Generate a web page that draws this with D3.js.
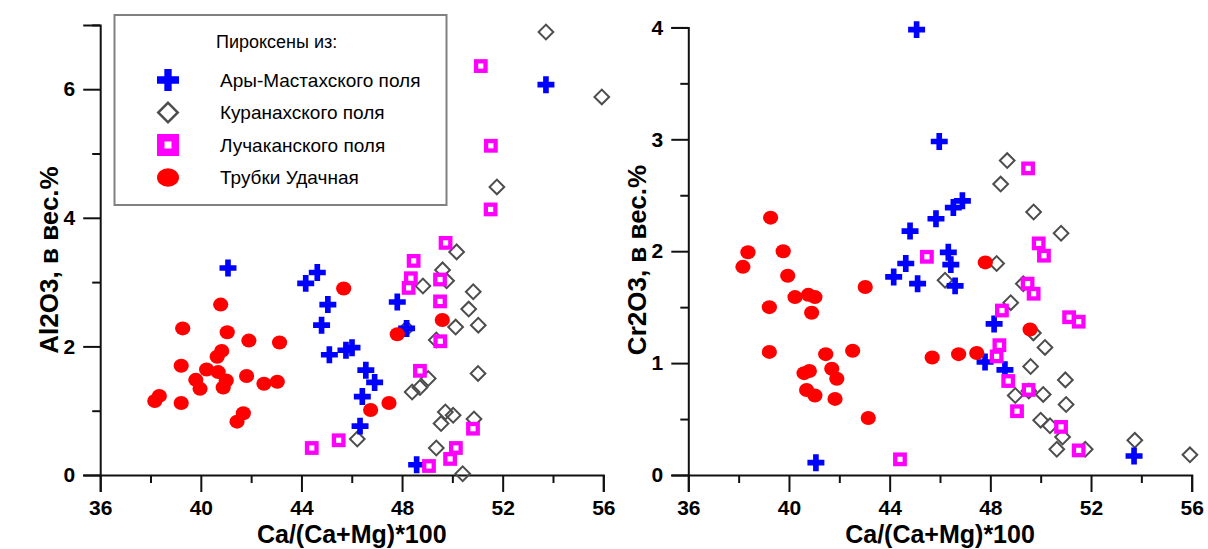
<!DOCTYPE html>
<html>
<head>
<meta charset="utf-8">
<script src="https://cdn.jsdelivr.net/npm/d3@7"></script>
<style>
  body { margin: 0; background: #fff; }
  text { font-family: "Liberation Sans", Arial, sans-serif; }
</style>
</head>
<body>
<div id="chart"></div>
<script>
// Values
// Ca/(Ca+Mg)*100 on x, Al2O3 (left panel) and Cr2O3 (right panel) on y

// Ары-Мастахского поля (blue crosses)
var aryAlX = [41.08, 44.63, 44.17, 45.05, 44.80, 45.11, 45.77, 46.01, 46.56, 46.91, 46.42, 46.33, 47.81, 48.18, 48.58, 53.72];
var aryAlY = [3.22, 3.15, 2.98, 2.65, 2.33, 1.87, 1.94, 1.98, 1.63, 1.44, 1.22, 0.76, 2.69, 2.28, 0.16, 6.07];
var aryCrX = [45.07, 45.97, 46.89, 46.53, 45.84, 44.81, 44.64, 44.16, 45.11, 46.33, 46.43, 46.60, 48.15, 47.79, 48.58, 41.07, 53.71];
var aryCrY = [3.98, 2.98, 2.45, 2.39, 2.29, 2.18, 1.89, 1.77, 1.71, 1.99, 1.88, 1.69, 1.35, 1.01, 0.94, 0.11, 0.17];

// Куранахского поля (grey diamonds)
var kurAlX = [50.17, 49.61, 49.77, 48.83, 50.83, 50.65, 50.13, 51.03, 49.36, 48.18, 51.02, 49.04, 48.71, 48.40, 49.72, 50.03, 49.55, 50.86, 49.36, 46.22, 50.41, 53.72, 55.94, 51.77];
var kurAlY = [3.47, 3.19, 3.02, 2.94, 2.85, 2.58, 2.30, 2.33, 2.10, 2.28, 1.58, 1.50, 1.36, 1.29, 0.98, 0.93, 0.80, 0.87, 0.42, 0.56, 0.02, 6.89, 5.88, 4.48];
var kurCrX = [48.67, 48.41, 49.72, 50.81, 48.25, 46.20, 49.31, 48.81, 49.71, 50.17, 49.60, 50.98, 48.99, 50.10, 51.01, 50.00, 50.37, 50.87, 50.64, 51.77, 53.74, 55.93, 49.53];
var kurCrY = [2.81, 2.60, 2.35, 2.16, 1.89, 1.74, 1.71, 1.54, 1.27, 1.14, 0.97, 0.85, 0.71, 0.72, 0.63, 0.49, 0.44, 0.34, 0.23, 0.23, 0.31, 0.18, 0.75];

// Лучаканского поля (magenta squares)
var luchAlX = [44.41, 45.48, 51.52, 49.73, 48.46, 48.35, 48.26, 49.51, 49.51, 49.52, 48.71, 50.82, 50.14, 49.91, 49.07, 51.13, 51.53];
var luchAlY = [0.42, 0.54, 4.13, 3.61, 3.33, 3.06, 2.91, 3.04, 2.70, 2.08, 1.62, 0.72, 0.42, 0.25, 0.14, 6.36, 5.12];
var luchCrX = [45.48, 44.41, 49.50, 49.92, 50.13, 49.48, 49.72, 48.46, 51.13, 51.51, 48.36, 48.25, 48.71, 49.52, 49.06, 50.81, 51.51];
var luchCrY = [1.95, 0.14, 2.74, 2.07, 1.96, 1.71, 1.62, 1.47, 1.41, 1.37, 1.16, 1.06, 0.84, 0.76, 0.57, 0.43, 0.22];

// Трубки Удачная (red dots)
var udAlX = [45.68, 40.79, 39.28, 41.05, 41.91, 43.13, 40.83, 40.65, 39.22, 40.23, 40.69, 41.01, 39.80, 41.82, 39.97, 40.89, 42.51, 43.04, 38.35, 38.17, 39.22, 41.69, 41.44, 49.60, 47.81, 47.48, 46.75];
var udAlY = [2.90, 2.65, 2.28, 2.22, 2.09, 2.06, 1.93, 1.84, 1.70, 1.64, 1.60, 1.47, 1.48, 1.54, 1.34, 1.36, 1.42, 1.45, 1.23, 1.15, 1.12, 0.96, 0.83, 2.41, 2.19, 1.12, 1.01];
var udCrX = [39.27, 38.37, 39.77, 38.17, 39.95, 40.24, 40.77, 41.03, 39.22, 40.90, 43.03, 39.22, 41.46, 42.53, 45.69, 40.60, 40.81, 41.70, 41.90, 40.70, 41.03, 41.83, 43.15, 47.80, 49.58, 47.46, 46.74];
var udCrY = [2.30, 1.99, 2.00, 1.86, 1.78, 1.59, 1.61, 1.59, 1.50, 1.45, 1.68, 1.10, 1.08, 1.11, 1.05, 0.91, 0.93, 0.95, 0.86, 0.76, 0.71, 0.68, 0.51, 1.90, 1.30, 1.09, 1.08];

// tick values
var xMajor = [36, 40, 44, 48, 52, 56];
var xMinor = [38, 42, 46, 50, 54];
var alMajor = [0, 2, 4, 6];
var alMinor = [1, 3, 5, 7];
var crMajor = [0, 1, 2, 3, 4];
var crMinor = [0.5, 1.5, 2.5, 3.5];

var legendTitle = "Пироксены из:";
var legendNames = ["Ары-Мастахского поля", "Куранахского поля", "Лучаканского поля", "Трубки Удачная"];
var xTitle = "Ca/(Ca+Mg)*100";

var svgWidth = 1208;
var svgHeight = 549;

var svg = d3.select("#chart")
    .append("svg")
    .attr("width", svgWidth)
    .attr("height", svgHeight);

var blue = "#0000ff", magenta = "#ff00ff", red = "#ff0000", grey = "#4d4d4d";

function zip(xs, ys) {
    return xs.map((x, i) => ({ x: x, y: ys[i] }));
}

// one panel: axes, titles and the four point series
function drawPanel(opt) {
    var x = d3.scaleLinear().domain([36, 56]).range(opt.xRange);
    var y = d3.scaleLinear().domain(opt.yDomain).range([475, opt.yTop]);

    var g = svg.append("g");

    // x axis, major then minor ticks
    g.append("g")
        .attr("transform", "translate(0,475)")
        .call(d3.axisBottom(x).tickValues(xMajor).tickSize(17).tickPadding(8).tickFormat(d3.format("d")));
    g.append("g")
        .attr("transform", "translate(0,475)")
        .call(d3.axisBottom(x).tickValues(xMinor).tickSize(8).tickFormat(""))
        .select(".domain").remove();

    // y axis
    g.append("g")
        .attr("transform", `translate(${opt.xRange[0]},0)`)
        .call(d3.axisLeft(y).tickValues(opt.yMajor).tickSize(17).tickPadding(8).tickFormat(d3.format("d")));
    g.append("g")
        .attr("transform", `translate(${opt.xRange[0]},0)`)
        .call(d3.axisLeft(y).tickValues(opt.yMinor).tickSize(8).tickFormat(""))
        .select(".domain").remove();

    g.selectAll(".domain").attr("stroke", "#111").attr("stroke-width", 2);
    g.selectAll(".tick line").attr("stroke", "#111").attr("stroke-width", 2);
    g.selectAll(".tick text")
        .attr("fill", "#000")
        .style("font-size", "21px")
        .style("font-weight", "bold")
        .style("font-family", "'Liberation Sans', Arial, sans-serif");

    // axis titles
    g.append("text")
        .attr("x", (opt.xRange[0] + opt.xRange[1]) / 2)
        .attr("y", 543)
        .attr("text-anchor", "middle")
        .style("font-size", "25px")
        .style("font-weight", "bold")
        .text(xTitle);

    g.append("text")
        .attr("transform", `translate(${opt.xRange[0] - 42},260) rotate(-90)`)
        .attr("text-anchor", "middle")
        .style("font-size", "26px")
        .style("font-weight", "bold")
        .text(opt.yTitle);

    // points: diamonds, crosses, squares, dots
    g.selectAll(".kur")
        .data(opt.kur)
        .enter()
        .append("path")
        .attr("d", d3.symbol().type(d3.symbolSquare).size(108))
        .attr("transform", d => `translate(${x(d.x)},${y(d.y)}) rotate(45)`)
        .attr("fill", "none")
        .attr("stroke", grey)
        .attr("stroke-width", 2);

    g.selectAll(".ary")
        .data(opt.ary)
        .enter()
        .append("path")
        .attr("d", d3.symbol().type(d3.symbolCross).size(160))
        .attr("transform", d => `translate(${x(d.x)},${y(d.y)})`)
        .attr("fill", blue);

    g.selectAll(".luch")
        .data(opt.luch)
        .enter()
        .append("rect")
        .attr("x", d => x(d.x) - 4.75)
        .attr("y", d => y(d.y) - 4.75)
        .attr("width", 9.5)
        .attr("height", 9.5)
        .attr("fill", "#fff")
        .attr("stroke", magenta)
        .attr("stroke-width", 4.3);

    g.selectAll(".ud")
        .data(opt.ud)
        .enter()
        .append("ellipse")
        .attr("cx", d => x(d.x))
        .attr("cy", d => y(d.y))
        .attr("rx", 7.6)
        .attr("ry", 7)
        .attr("fill", red);
}

drawPanel({
    xRange: [100.2, 603.3],
    yDomain: [0, 7],
    yTop: 24.9,
    yMajor: alMajor,
    yMinor: alMinor,
    yTitle: "Al2O3, в вес.%",
    ary: zip(aryAlX, aryAlY),
    kur: zip(kurAlX, kurAlY),
    luch: zip(luchAlX, luchAlY),
    ud: zip(udAlX, udAlY)
});

drawPanel({
    xRange: [688.3, 1191.7],
    yDomain: [0, 4],
    yTop: 27.4,
    yMajor: crMajor,
    yMinor: crMinor,
    yTitle: "Cr2O3, в вес.%",
    ary: zip(aryCrX, aryCrY),
    kur: zip(kurCrX, kurCrY),
    luch: zip(luchCrX, luchCrY),
    ud: zip(udCrX, udCrY)
});

// Legend box in the left panel
var legend = svg.append("g");

legend.append("rect")
    .attr("x", 114.5)
    .attr("y", 15)
    .attr("width", 332)
    .attr("height", 190)
    .attr("fill", "#fff")
    .attr("stroke", "#808080")
    .attr("stroke-width", 2);

legend.append("text")
    .attr("x", 216)
    .attr("y", 48)
    .style("font-size", "18px")
    .text(legendTitle);

var rowY = [80, 112.5, 145, 177.5];
var symX = 168;

legend.append("path")
    .attr("d", d3.symbol().type(d3.symbolCross).size(269))
    .attr("transform", `translate(${symX},${rowY[0]})`)
    .attr("fill", blue);

legend.append("path")
    .attr("d", d3.symbol().type(d3.symbolSquare).size(190))
    .attr("transform", `translate(${symX},${rowY[1]}) rotate(45)`)
    .attr("fill", "none")
    .attr("stroke", grey)
    .attr("stroke-width", 2.5);

legend.append("rect")
    .attr("x", symX - 7.25)
    .attr("y", rowY[2] - 7.25)
    .attr("width", 14.5)
    .attr("height", 14.5)
    .attr("fill", "#fff")
    .attr("stroke", magenta)
    .attr("stroke-width", 7.5);

legend.append("ellipse")
    .attr("cx", symX)
    .attr("cy", rowY[3])
    .attr("rx", 11)
    .attr("ry", 9.3)
    .attr("fill", red);

legend.selectAll(".lname")
    .data(legendNames)
    .enter()
    .append("text")
    .attr("x", 220)
    .attr("y", (d, i) => rowY[i] + 6.5)
    .style("font-size", "19px")
    .text(d => d);
</script>
</body>
</html>
